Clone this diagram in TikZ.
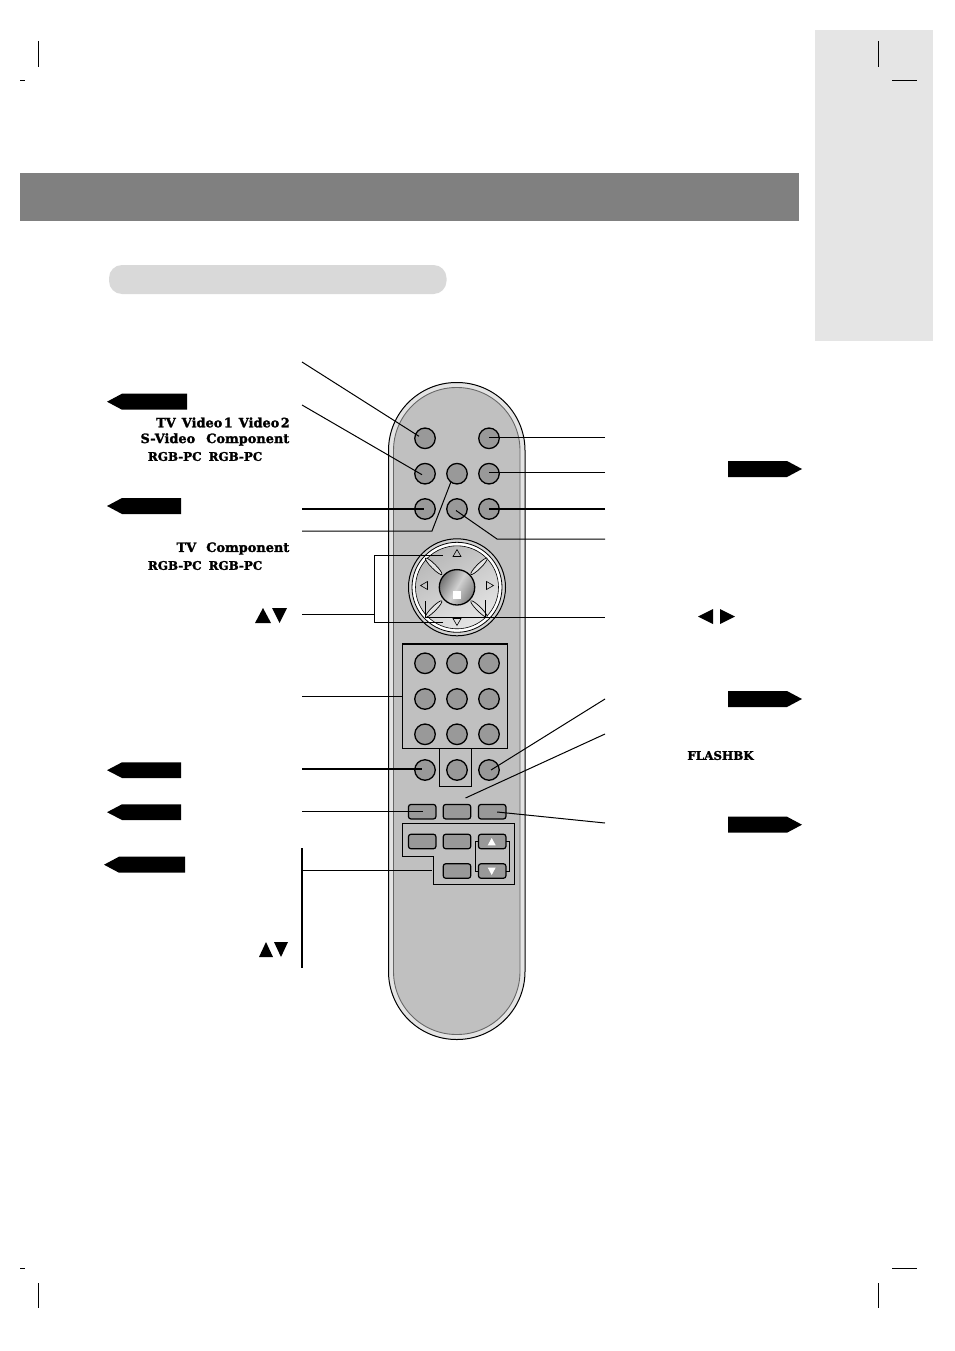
\documentclass[tikz,border=0pt]{standalone}
\usepackage{fontspec}
\setmainfont{DejaVu Serif}[BoldFeatures={FakeBold=1.7}]
\usetikzlibrary{calc,shapes.geometric}
\definecolor{tabgray}{HTML}{E5E5E5}
\definecolor{headgray}{HTML}{808080}
\definecolor{pillgray}{HTML}{D9D9D9}
\definecolor{bodygray}{HTML}{C0C0C0}
\definecolor{bandgray}{HTML}{E4E4E4}
\definecolor{btngray}{HTML}{999999}
\tikzset{
  x=1pt,y=-1pt,
  roundbtn/.style={circle,draw=black,line width=1.3pt,fill=btngray,minimum size=20.5pt,inner sep=0pt},
  rectbtn/.style={rectangle,rounded corners=2.5pt,draw=black,line width=1.2pt,fill=btngray,minimum width=27.5pt,minimum height=14.5pt,inner sep=0pt},
  conn/.style={line width=1pt,black},
  thickconn/.style={line width=2pt,black},
  frameline/.style={line width=1.5pt,black,line join=miter},
  label/.style={font=\fontsize{12.9}{14}\selectfont\bfseries,anchor=east,inner sep=0pt,text=black},
  capslabel/.style={font=\fontsize{11.9}{14}\selectfont\bfseries,anchor=east,inner sep=0pt,text=black},
  crop/.style={line width=0.6pt,black},
  loz/.style={ellipse,draw=black,line width=0.7pt,fill=bandgray,minimum width=23pt,minimum height=4.5pt,inner sep=0pt},
}
\begin{document}
\begin{tikzpicture}
\useasboundingbox (0,0) rectangle (954,1351);
\fill[white] (0,0) rectangle (954,1351);
% page furniture
\fill[tabgray] (814.5,30.5) rectangle (933,341);
\fill[headgray] (20,173) rectangle (799,221);
\fill[pillgray,rounded corners=13pt] (109,265) rectangle (446.5,294);
% crop marks
\draw[crop] (38,41) -- (38,67) (20,80) -- (25,80);
\draw[crop] (878,41) -- (878,67) (892,80) -- (917,80);
\draw[crop] (38,1283) -- (38,1308) (20,1268) -- (25,1268);
\draw[crop] (878,1283) -- (878,1308) (892,1268) -- (917,1268);
% flags left
\fill (107,401.7) -- (122,393.7) -- (187,393.7) -- (187,409.7) -- (122,409.7) -- cycle;
\fill (107,506) -- (122,498) -- (181,498) -- (181,514) -- (122,514) -- cycle;
\fill (107,770.2) -- (122,762.3) -- (181,762.3) -- (181,778) -- (122,778) -- cycle;
\fill (107,812.2) -- (122,804.3) -- (181,804.3) -- (181,820) -- (122,820) -- cycle;
\fill (104,864.7) -- (119,856.7) -- (185,856.7) -- (185,872.7) -- (119,872.7) -- cycle;
% flags right
\fill (728,461) -- (787,461) -- (802,469) -- (787,477) -- (728,477) -- cycle;
\fill (728,691) -- (787,691) -- (802,699) -- (787,707) -- (728,707) -- cycle;
\fill (728,816.7) -- (787,816.7) -- (802,824.7) -- (787,832.7) -- (728,832.7) -- cycle;
% texts
\node[label] (t1) at (290,422.5) {TV\hspace{6pt}Video\hspace{1.5pt}1\hspace{6pt}Video\hspace{1.5pt}2};
\node[label] (t2) at (289.5,439.5) {S-Video\hspace{11pt}Component};
\node[capslabel] (t3) at (262.5,456.5) {RGB-PC\hspace{7pt}RGB-PC};
\node[label] (t4) at (289.5,548.5) {TV\hspace{10pt}Component};
\node[capslabel] (t5) at (262.5,565.5) {RGB-PC\hspace{7pt}RGB-PC};
\node[capslabel,anchor=center] (t6) at (720.5,755.5) {FLASHBK};
% triangles
\fill (255,623) -- (263,608) -- (271,623) -- cycle;
\fill (272,608) -- (287,608) -- (279.5,623) -- cycle;
\fill (259,957) -- (266,942) -- (273,957) -- cycle;
\fill (274,942) -- (288,942) -- (281,957) -- cycle;
\fill (698,616.5) -- (713,609) -- (713,624) -- cycle;
\fill (720,609) -- (735,616.5) -- (720,624) -- cycle;
% remote body
\draw[line width=1pt,fill=bandgray,rounded corners=68pt] (388.5,382.5) rectangle (525,1039.5);
\draw[line width=0.9pt,draw=black!60,fill=bodygray,rounded corners=63pt] (393.5,387.5) rectangle (520,1034.5);
% d-pad
\node[circle,draw=black,line width=1pt,fill=bodygray!70!white,minimum size=97pt,inner sep=0pt] (dpadouter) at (457,587.3) {};
\node[circle,draw=black,line width=0.8pt,fill=white,minimum size=90pt,inner sep=0pt] (dpadring) at (457,587.3) {};
\node[circle,draw=black,line width=0.6pt,left color=black!28,right color=black!10,shading angle=30,minimum size=83pt,inner sep=0pt] (dpad) at (457,587.3) {};
\node[loz,rotate=-45] (l1) at (433.7,566.3) {};
\node[loz,rotate=45] (l2) at (479,566.3) {};
\node[loz,rotate=45] (l3) at (433.7,609) {};
\node[loz,rotate=-45] (l4) at (479,609) {};
\shade[draw=black,line width=1.3pt,left color=black!55,right color=black!50,middle color=black!18,shading angle=60] (457,587.3) circle (17.7);
\node[fill=white,minimum size=8pt,inner sep=0pt] (okmark) at (457,594.7) {};
\draw[line width=0.6pt] (453,556.5) -- (457,549.5) -- (461,556.5) -- cycle;
\draw[line width=0.6pt] (453,618.5) -- (461,618.5) -- (457,625.5) -- cycle;
\draw[line width=0.6pt] (427.5,581.5) -- (427.5,589.5) -- (420.5,585.5) -- cycle;
\draw[line width=0.6pt] (486.5,581.5) -- (486.5,589.5) -- (493.5,585.5) -- cycle;
% round buttons
\foreach \n/\x/\y in {a/425/438.3,b/489/438.3,
  c/425/473.7,d/457/473.7,e/489/473.7,
  f/425/509,g/457/509,h/489/509,
  n1/425/663.3,n2/457/663.3,n3/489/663.3,
  n4/425/699,n5/457/699,n6/489/699,
  n7/425/734.3,n8/457/734.3,n9/489/734.3,
  m1/425/770,m2/457/770,m3/489/770}
  \node[roundbtn] (\n) at (\x,\y) {};
% rect buttons
\foreach \n/\x/\y in {r1/422.2/811.7,r2/457/811.7,r3/492.2/811.7,
  s1/422.2/841.5,s2/457/841.5,s3/492.2/841.5,
  u2/457/871,u3/492.2/871}
  \node[rectbtn] (\n) at (\x,\y) {};
\fill[white] (487.7,845.3) -- (491.7,838) -- (495.7,845.3) -- cycle;
\fill[white] (487.7,867.5) -- (495.7,867.5) -- (491.7,875) -- cycle;
% frames
\draw[frameline] (402.7,644) rectangle (507.3,748.7);
\draw[conn] (439.3,748.7) -- (439.3,786) -- (471.7,786) -- (471.7,748.7);
\draw[conn] (402.7,823.3) -- (514.7,823.3) -- (514.7,884.3) -- (433.3,884.3) -- (433.3,856.3);
\draw[frameline] (433.3,856.3) -- (402.7,856.3) -- (402.7,823.3);
\draw[conn] (478,841.3) -- (475.3,841.3) -- (475.3,871.3) -- (478,871.3);
\draw[conn] (506,841.3) -- (509.3,841.3) -- (509.3,871.3) -- (506,871.3);
% connector anchors
\coordinate (la) at (302,362);
\coordinate (lc) at (302,405);
\coordinate (lf) at (302,509);
\coordinate (ld) at (302,531);
\coordinate (ldm) at (432,531);
\coordinate (lud) at (302,614);
\coordinate (brt) at (374,555);
\coordinate (brb) at (374,622);
\coordinate (brm) at (374,614);
\coordinate (brte) at (443,555);
\coordinate (brbe) at (443,622);
\coordinate (ln) at (302,696);
\coordinate (lm) at (302,769);
\coordinate (lr) at (302,811);
\coordinate (lvt) at (302,848);
\coordinate (lvb) at (302,968);
\coordinate (lvm) at (302,870.5);
\coordinate (lbox) at (432,870.5);
\coordinate (nbox) at (402.7,696);
\coordinate (rb) at (605,437.3);
\coordinate (re) at (605,472.7);
\coordinate (rh) at (605,509);
\coordinate (rg) at (605,539);
\coordinate (rgm) at (497,539);
\coordinate (rd) at (605,617);
\coordinate (rdl) at (425.5,617);
\coordinate (rdlt) at (425.5,601);
\coordinate (rdr) at (485,617);
\coordinate (rdrt) at (485,600);
\coordinate (rm) at (605,699);
\coordinate (rf) at (605,734);
\coordinate (rfe) at (465.5,798);
\coordinate (rr) at (605,823);
% connectors
\draw[conn] (la) -- ([shift={(-6,-2)}]a.center);
\draw[conn] (lc) -- ([shift={(-3,1)}]c.center);
\draw[thickconn] (lf) -- ([xshift=-1pt]f.center);
\draw[conn] (ld) -- (ldm) -- ([shift={(-6,8)}]d.center);
\draw[conn] (lud) -- (brm);
\draw[conn] (brbe) -- (brb) -- (brt) -- (brte);
\draw[conn] (ln) -- (nbox);
\draw[thickconn] (lm) -- ([shift={(-3,-1)}]m1.center);
\draw[conn] (lr) -- ([shift={(1,-0.7)}]r1.center);
\draw[line width=1.3pt] (lvt) -- (lvb);
\draw[conn] (lvm) -- (lbox);
\draw[conn] (rb) -- ([yshift=1pt]b.center);
\draw[conn] (re) -- ([yshift=1pt]e.center);
\draw[thickconn] (rh) -- (h.center);
\draw[conn] (rg) -- (rgm) -- ([shift={(-1,1.5)}]g.center);
\draw[conn] (rdlt) -- (rdl) -- (rd);
\draw[conn] (rdrt) -- (rdr);
\draw[conn] (rm) -- ([shift={(2,0)}]m3.center);
\draw[conn] (rf) -- (rfe);
\draw[conn] (rr) -- ([shift={(5,0.3)}]r3.center);
\end{tikzpicture}
\end{document}
